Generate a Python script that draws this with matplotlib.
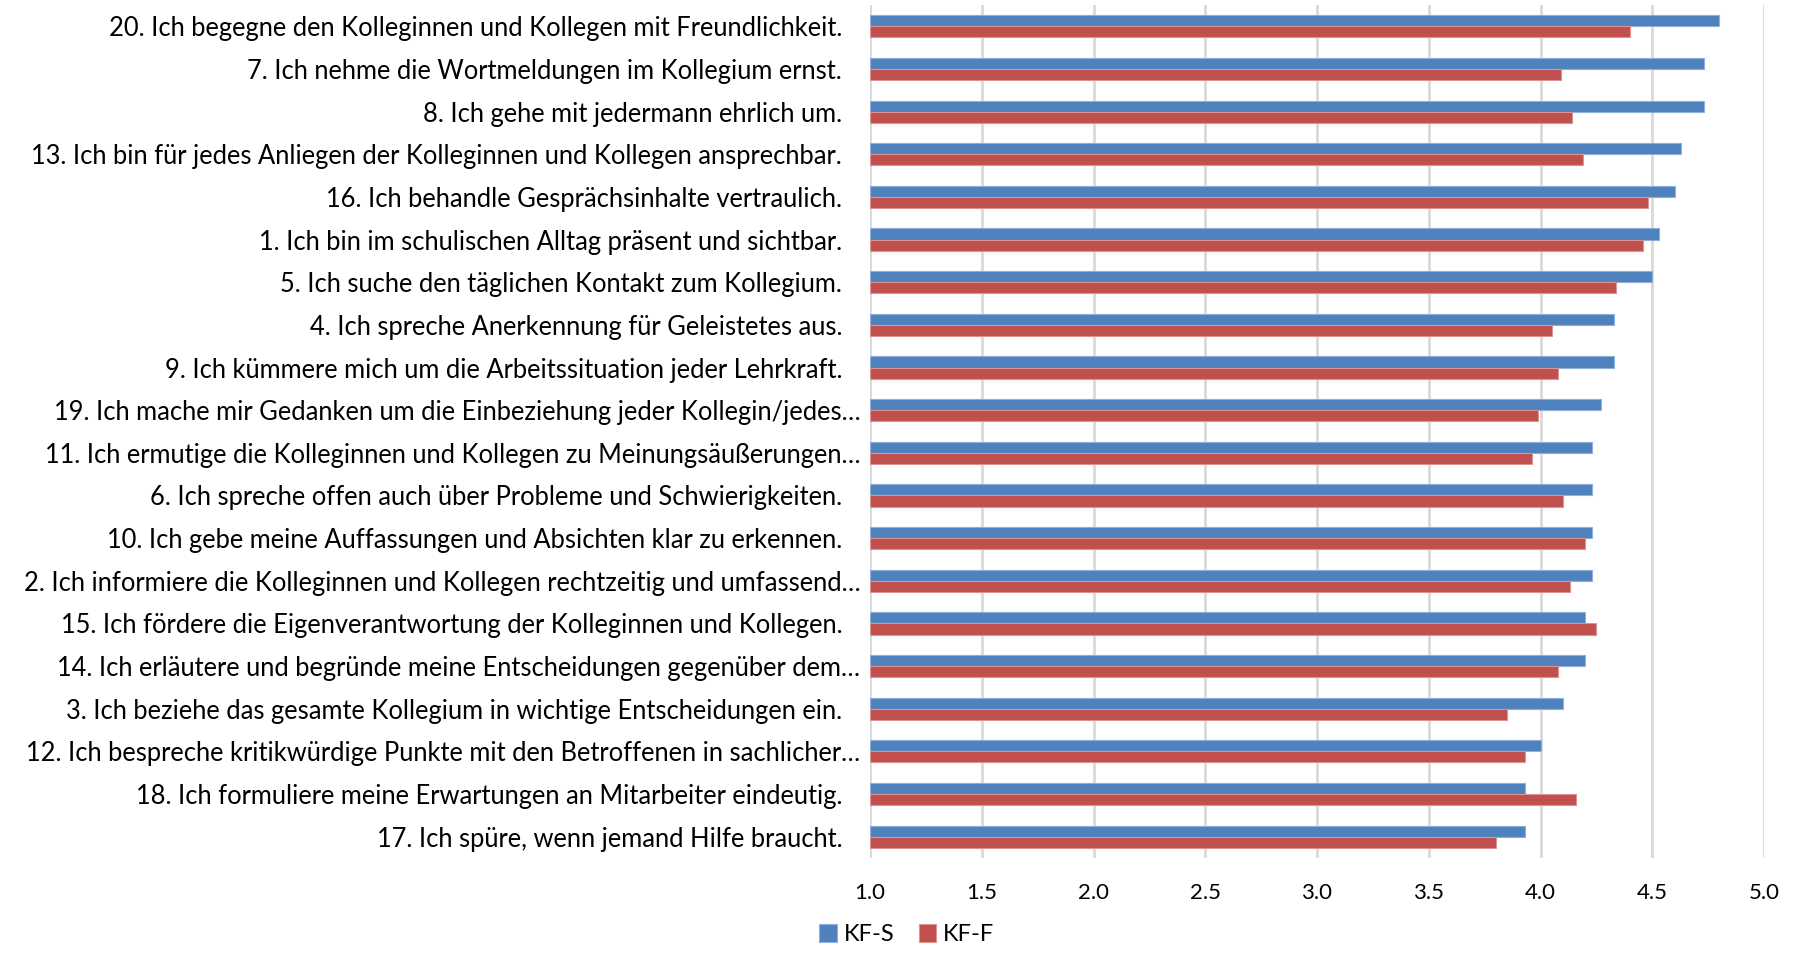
import numpy as np
import matplotlib
matplotlib.use("Agg")
import matplotlib.pyplot as plt
from matplotlib.ticker import FormatStrFormatter
from matplotlib.transforms import ScaledTranslation

plt.rcParams['font.family'] = ['Lato', 'DejaVu Sans']

items = [
    "20. Ich begegne den Kolleginnen und Kollegen mit Freundlichkeit.",
    "7. Ich nehme die Wortmeldungen im Kollegium ernst.",
    "8. Ich gehe mit jedermann ehrlich um.",
    "13. Ich bin für jedes Anliegen der Kolleginnen und Kollegen ansprechbar.",
    "16. Ich behandle Gesprächsinhalte vertraulich.",
    "1. Ich bin im schulischen Alltag präsent und sichtbar.",
    "5. Ich suche den täglichen Kontakt zum Kollegium.",
    "4. Ich spreche Anerkennung für Geleistetes aus.",
    "9. Ich kümmere mich um die Arbeitssituation jeder Lehrkraft.",
    "19. Ich mache mir Gedanken um die Einbeziehung jeder Kollegin/jedes…",
    "11. Ich ermutige die Kolleginnen und Kollegen zu Meinungsäußerungen…",
    "6. Ich spreche offen auch über Probleme und Schwierigkeiten.",
    "10. Ich gebe meine Auffassungen und Absichten klar zu erkennen.",
    "2. Ich informiere die Kolleginnen und Kollegen rechtzeitig und umfassend…",
    "15. Ich fördere die Eigenverantwortung der Kolleginnen und Kollegen.",
    "14. Ich erläutere und begründe meine Entscheidungen gegenüber dem…",
    "3. Ich beziehe das gesamte Kollegium in wichtige Entscheidungen ein.",
    "12. Ich bespreche kritikwürdige Punkte mit den Betroffenen in sachlicher…",
    "18. Ich formuliere meine Erwartungen an Mitarbeiter eindeutig.",
    "17. Ich spüre, wenn jemand Hilfe braucht.",
]
kf_s = [4.80, 4.73, 4.73, 4.63, 4.60, 4.53, 4.50, 4.33, 4.33, 4.27,
        4.23, 4.23, 4.23, 4.23, 4.20, 4.20, 4.10, 4.00, 3.93, 3.93]
kf_f = [4.40, 4.09, 4.14, 4.19, 4.48, 4.46, 4.34, 4.05, 4.08, 3.99,
        3.96, 4.10, 4.20, 4.13, 4.25, 4.08, 3.85, 3.93, 4.16, 3.80]
xticks = [1.0, 1.5, 2.0, 2.5, 3.0, 3.5, 4.0, 4.5, 5.0]

fig = plt.figure(figsize=(17.97, 9.57), dpi=100)
ax = fig.add_axes([870 / 1797, 1 - 858 / 957, (1764 - 870) / 1797, 853 / 957])

y = np.arange(len(items))
h = 0.26
ax.barh(y - 0.13, np.array(kf_s) - 1.0, left=1.0, height=h, color="#4F81BD",
        edgecolor="#8eb0da", linewidth=0.8, label="KF-S", zorder=3)
ax.barh(y + 0.13, np.array(kf_f) - 1.0, left=1.0, height=h, color="#C0504D",
        edgecolor="#dc9492", linewidth=0.8, label="KF-F", zorder=3)

ax.set_xlim(1.0, 5.0)
ax.set_ylim(len(items) - 0.5, -0.5)
ax.set_xticks(xticks)
ax.xaxis.set_major_formatter(FormatStrFormatter("%.1f"))
ax.set_yticks(y)
ax.set_yticklabels(items)
ax.tick_params(axis="x", length=0, pad=18, labelsize=16)
ax.tick_params(axis="y", length=0, pad=20, labelsize=18.4)
ax.grid(axis="x", color="#d9d9d9", linewidth=2, zorder=0)
for s in ax.spines.values():
    s.set_visible(False)

# truncated labels sit closer to the axis, like in the original
shift = ScaledTranslation(0.18, 0, fig.dpi_scale_trans)
for lab in ax.get_yticklabels():
    if lab.get_text().endswith("…"):
        lab.set_transform(lab.get_transform() + shift)

fig.legend(loc="lower center", bbox_to_anchor=(907 / 1797, 0),
           ncol=2, frameon=False, fontsize=17, handlelength=0.75,
           handleheight=0.75, handletextpad=0.3, columnspacing=1.0,
           borderpad=0)

fig.savefig("out.png", dpi=100)
